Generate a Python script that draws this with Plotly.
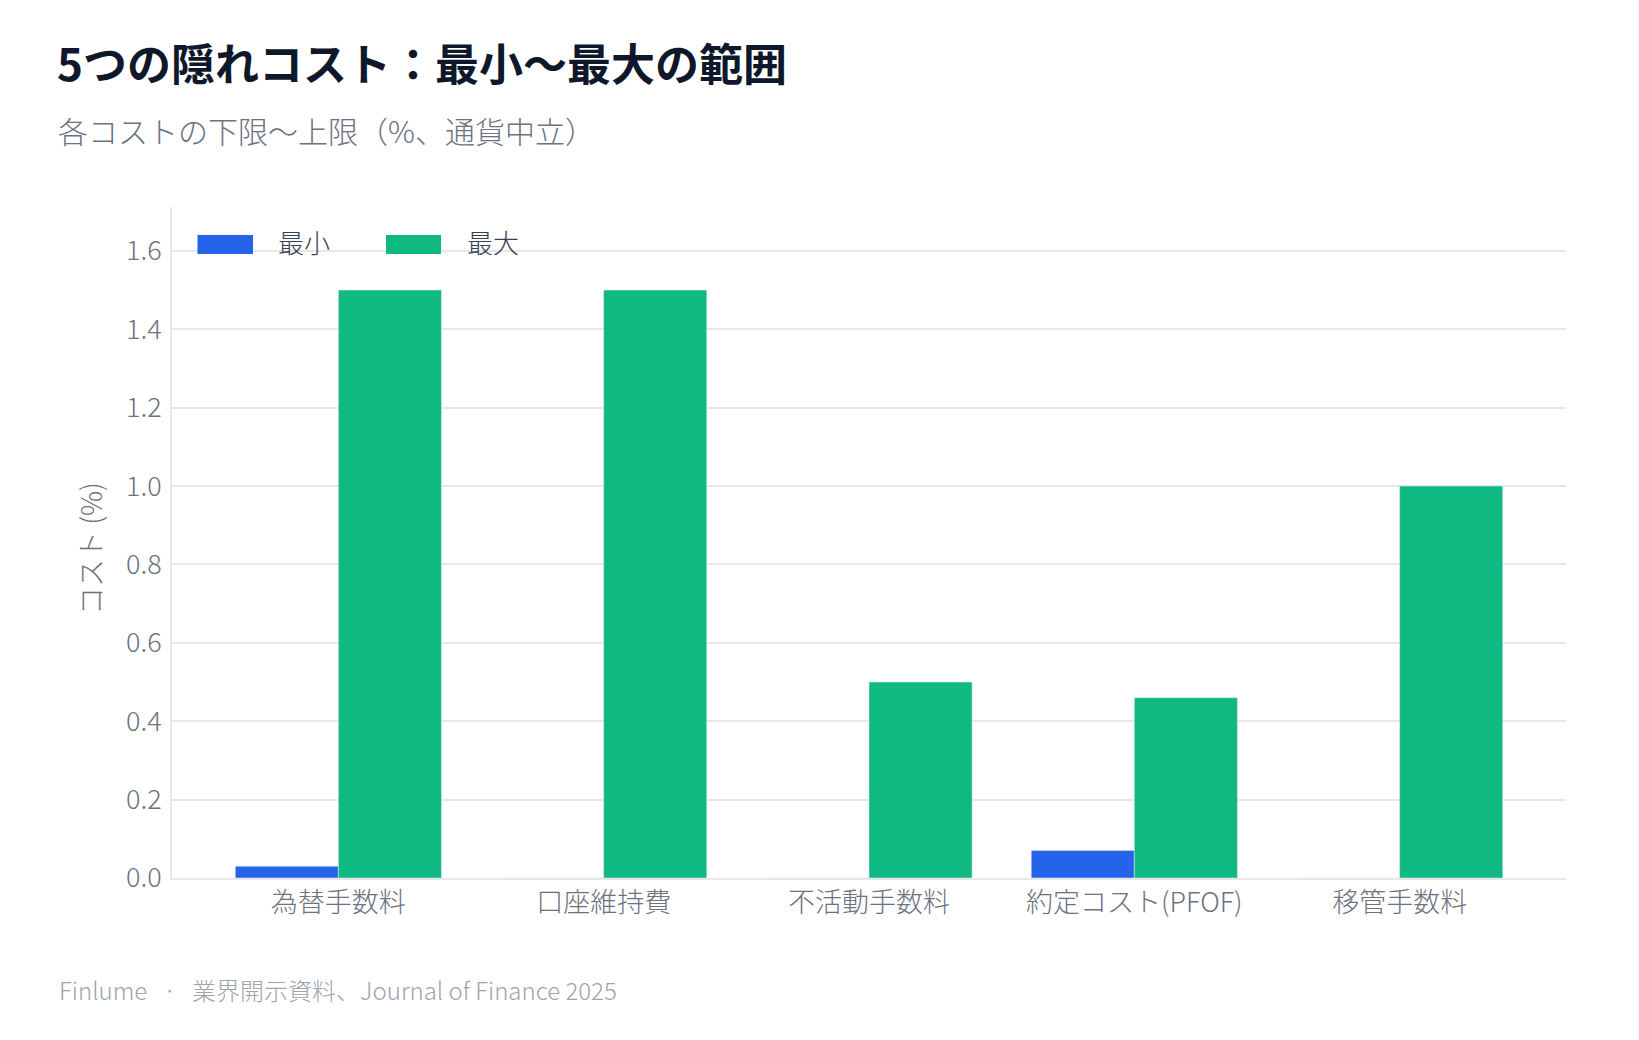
import plotly.graph_objects as go

categories = ["為替手数料", "口座維持費", "不活動手数料", "約定コスト(PFOF)", "移管手数料"]
min_values = [0.03, 0.0, 0.0, 0.07, 0.0]
max_values = [1.5, 1.5, 0.5, 0.46, 1.0]
series_names = ["最小", "最大"]
y_ticks = [0.0, 0.2, 0.4, 0.6, 0.8, 1.0, 1.2, 1.4, 1.6]

BLUE = "#2563EB"
GREEN = "#10B981"
FONT = "Noto Sans CJK JP"

W, H = 1639, 1040
L, R, T, B = 172, 73, 207, 162
PW, PH = W - L - R, H - T - B


def px(x):
    return (x - L) / PW


def py(y):
    return (H - B - y) / PH


fig = go.Figure()
fig.add_trace(go.Bar(x=categories, y=min_values, name=series_names[0], marker_color=BLUE))
fig.add_trace(go.Bar(x=categories, y=max_values, name=series_names[1], marker_color=GREEN))

fig.update_layout(
    width=W, height=H,
    margin=dict(l=L, r=R, t=T, b=B),
    paper_bgcolor="white", plot_bgcolor="white",
    font=dict(family=FONT, color="#6b7280", weight=300),
    barmode="group", bargap=0.223, bargroupgap=0,
    showlegend=False,
    xaxis=dict(
        range=[-0.627, 4.627], showgrid=False,
        showline=True, linecolor="#e5e7eb", linewidth=2,
        tickfont=dict(size=27, color="#6b7280", weight=300), ticks="",
    ),
    yaxis=dict(
        range=[0, 1.712], tickvals=y_ticks, tickformat=".1f",
        showgrid=True, gridcolor="#e5e7eb", gridwidth=2,
        zeroline=False, showline=True, linecolor="#e5e7eb", linewidth=2,
        tickfont=dict(size=27, color="#6b7280", weight=300), ticks="", ticklabelstandoff=3,
    ),
)

# legend drawn manually
legend_items = [(197.5, 253, 276, BLUE, series_names[0]), (386, 441, 465, GREEN, series_names[1])]
for x0, x1, xt, col, name in legend_items:
    fig.add_shape(type="rect", xref="paper", yref="paper",
                  x0=px(x0), x1=px(x1), y0=py(254), y1=py(235),
                  fillcolor=col, line=dict(width=0))
    fig.add_annotation(xref="paper", yref="paper", x=px(xt), y=py(241),
                       text=name, showarrow=False, xanchor="left", yanchor="middle",
                       font=dict(size=26, color="#374151", family=FONT, weight=300))

# title, subtitle, footer, axis title
fig.add_annotation(xref="paper", yref="paper", x=px(55), y=py(62),
                   text="5つの隠れコスト：最小〜最大の範囲", showarrow=False,
                   xanchor="left", yanchor="middle",
                   font=dict(size=44, color="#0f172a", family=FONT, weight=700))
fig.add_annotation(xref="paper", yref="paper", x=px(56), y=py(130),
                   text="各コストの下限〜上限（%、通貨中立）", showarrow=False,
                   xanchor="left", yanchor="middle",
                   font=dict(size=30, color="#6b7280", family=FONT, weight=300))
fig.add_annotation(xref="paper", yref="paper", x=px(57), y=py(989),
                   text="Finlume&nbsp;&nbsp;&nbsp;·&nbsp;&nbsp;&nbsp;業界開示資料、Journal of Finance 2025",
                   showarrow=False, xanchor="left", yanchor="middle",
                   font=dict(size=24, color="#9ca3af", family=FONT, weight=300))
fig.add_annotation(xref="paper", yref="paper", x=px(90), y=py(549),
                   text="コスト (%)", showarrow=False, textangle=-90,
                   xanchor="center", yanchor="middle",
                   font=dict(size=28, color="#6b7280", family=FONT, weight=300))

fig.write_html("out.html")
